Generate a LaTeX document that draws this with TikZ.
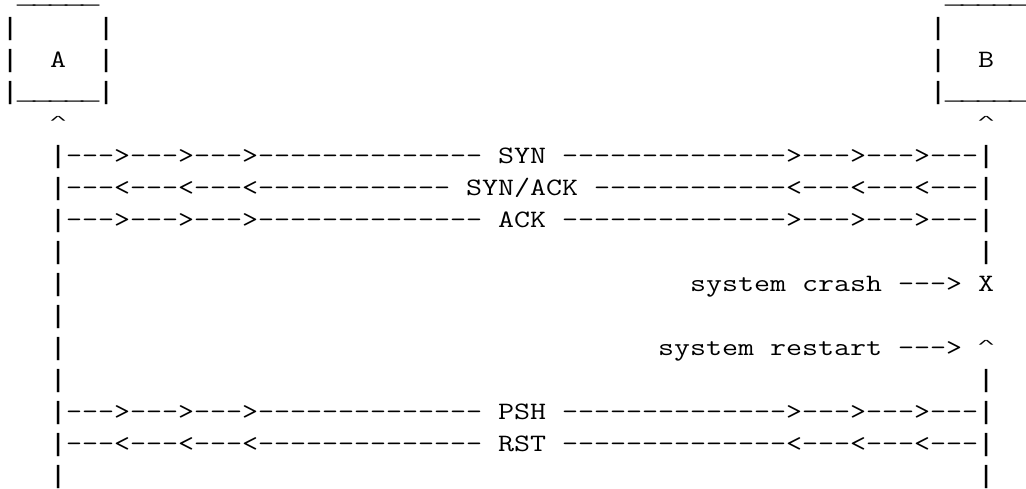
\documentclass[tikz,border=0pt]{standalone}
\usepackage{fontspec}
\newfontfamily\barfont{Liberation Mono}
\newlength\ascw
\AtBeginDocument{%
  \settowidth{\ascw}{\ttfamily\fontsize{25}{30}\selectfont M}%
  \pgfmathsetmacro\ascx{16pt/\ascw}}
\newcommand{\asc}[1]{\scalebox{\ascx}[1]{\ttfamily\fontsize{25}{30}\selectfont #1}}
\newcommand{\asbar}{\makebox[\ascw]{\barfont|}}
\newcommand{\asus}{\makebox[\ascw]{\barfont\_}}
\newcommand{\ascaret}{\makebox[\ascw]{\raisebox{7.3pt}{\scalebox{1}[0.43]{\barfont\textasciicircum}}}}

\begin{document}
\begin{tikzpicture}[x=1pt,y=1pt,txt/.style={anchor=base west,inner sep=0pt}]
  \useasboundingbox (0,0) rectangle (1026,-488);
  \path
    (18,-3) node[txt] (Atop) {\asc{\asus\asus\asus\asus\asus}}
    (2,-35) node[txt] (Aside) {\asc{\asbar~~~~~\asbar}}
    (2,-67) node[txt] (A) {\asc{\asbar~~A~~\asbar}}
    (2,-99) node[txt] (Abot) {\asc{\asbar\asus\asus\asus\asus\asus\asbar}}
    (50,-131) node[txt] (Aup) {\asc{\ascaret}};
  \path
    (946,-3) node[txt] (Btop) {\asc{\asus\asus\asus\asus\asus}}
    (930,-35) node[txt] (Bside) {\asc{\asbar~~~~~}}
    (930,-67) node[txt] (B) {\asc{\asbar~~B}}
    (930,-99) node[txt] (Bbot) {\asc{\asbar\asus\asus\asus\asus\asus}}
    (978,-131) node[txt] (Bup) {\asc{\ascaret}};
  \path
    (50,-163) node[txt] (syn) {\asc{\asbar--->--->--->-------------- SYN -------------->--->--->---\asbar}}
    (50,-195) node[txt] (synack) {\asc{\asbar---<---<---<------------ SYN/ACK ------------<---<---<---\asbar}}
    (50,-227) node[txt] (ack) {\asc{\asbar--->--->--->-------------- ACK -------------->--->--->---\asbar}};
  \path
    (50,-259) node[txt] (la8) {\asc{\asbar}}
    (978,-259) node[txt] (lb8) {\asc{\asbar}}
    (50,-291) node[txt] (la9) {\asc{\asbar}}
    (690,-291) node[txt] (crash) {\asc{system crash ---> X}}
    (50,-323) node[txt] (la10) {\asc{\asbar}}
    (50,-355) node[txt] (la11) {\asc{\asbar}}
    (658,-355) node[txt] (restart) {\asc{system restart ---> \ascaret}}
    (50,-387) node[txt] (la12) {\asc{\asbar}}
    (978,-387) node[txt] (lb12) {\asc{\asbar}};
  \path
    (50,-419) node[txt] (psh) {\asc{\asbar--->--->--->-------------- PSH -------------->--->--->---\asbar}}
    (50,-451) node[txt] (rst) {\asc{\asbar---<---<---<-------------- RST --------------<---<---<---\asbar}}
    (50,-483) node[txt] (la15) {\asc{\asbar}}
    (978,-483) node[txt] (lb15) {\asc{\asbar}};
\end{tikzpicture}
\end{document}
